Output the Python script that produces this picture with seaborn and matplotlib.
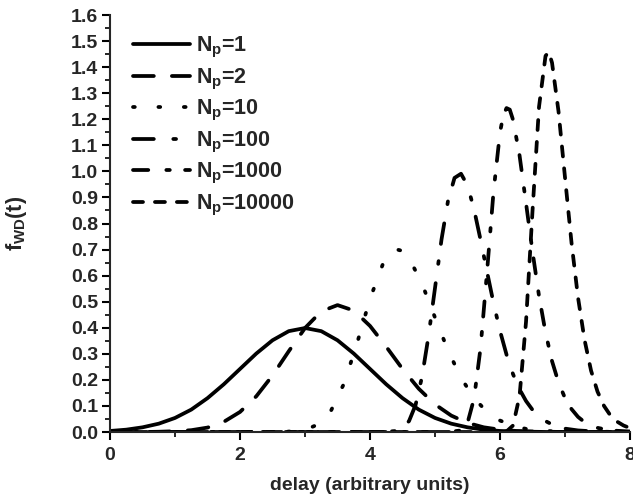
import matplotlib
matplotlib.use("Agg")
import matplotlib.pyplot as plt
import seaborn as sns
from matplotlib.ticker import MultipleLocator, FormatStrFormatter

# values
x_wide = [0.0, 0.25, 0.5, 0.75, 1.0, 1.25, 1.5, 1.75, 2.0, 2.25, 2.5, 2.75,
          3.0, 3.25, 3.5, 3.75, 4.0, 4.25, 4.5, 4.75, 5.0, 5.25, 5.5, 5.75,
          6.0, 6.25, 6.5, 6.75, 7.0, 7.25, 7.5, 7.75, 8.0]

f_np1 = [0.004, 0.009, 0.018, 0.032, 0.054, 0.086, 0.130, 0.183, 0.242, 0.301,
         0.352, 0.387, 0.399, 0.387, 0.352, 0.301, 0.242, 0.183, 0.130, 0.086,
         0.054, 0.032, 0.018, 0.009, 0.004, 0.002, 0.001, 0.0, 0.0, 0.0, 0.0,
         0.0, 0.0]

f_np2 = [0.0, 0.0, 0.0, 0.001, 0.003, 0.007, 0.017, 0.039, 0.077, 0.137,
         0.217, 0.310, 0.399, 0.463, 0.487, 0.466, 0.407, 0.327, 0.242, 0.166,
         0.106, 0.063, 0.035, 0.018, 0.009, 0.004, 0.002, 0.001, 0.0, 0.0, 0.0,
         0.0, 0.0]

x_np10 = [0.0, 1.0, 2.0, 2.4, 2.8, 3.0, 3.2, 3.4, 3.6, 3.8, 4.0, 4.2, 4.3,
          4.4, 4.5, 4.6, 4.8, 5.0, 5.2, 5.4, 5.6, 5.8, 6.0, 6.2, 6.4, 6.6,
          6.8, 7.0, 8.0]
f_np10 = [0.0, 0.0, 0.0, 0.0, 0.002, 0.008, 0.029, 0.082, 0.186, 0.340,
          0.511, 0.646, 0.686, 0.701, 0.695, 0.668, 0.569, 0.439, 0.313,
          0.208, 0.130, 0.077, 0.044, 0.024, 0.012, 0.006, 0.003, 0.001, 0.0]

x_np100 = [0.0, 2.0, 3.0, 4.2, 4.4, 4.5, 4.6, 4.7, 4.8, 4.9, 5.0, 5.1, 5.2,
           5.3, 5.4, 5.5, 5.6, 5.7, 5.8, 5.9, 6.0, 6.1, 6.2, 6.3, 6.4, 6.5,
           6.6, 6.7, 6.8, 6.9, 7.0, 7.2, 7.4, 7.6, 8.0]
f_np100 = [0.0, 0.0, 0.0, 0.0, 0.004, 0.014, 0.042, 0.103, 0.212, 0.368,
           0.553, 0.739, 0.887, 0.975, 0.991, 0.946, 0.855, 0.738, 0.615,
           0.495, 0.388, 0.297, 0.222, 0.164, 0.119, 0.085, 0.060, 0.042,
           0.029, 0.020, 0.013, 0.006, 0.003, 0.001, 0.0]

x_np1000 = [0.0, 3.0, 4.0, 5.2, 5.4, 5.5, 5.6, 5.7, 5.8, 5.9, 6.0, 6.05, 6.1,
            6.15, 6.2, 6.3, 6.4, 6.5, 6.6, 6.7, 6.8, 6.9, 7.0, 7.1, 7.2, 7.3,
            7.4, 7.5, 7.7, 8.0]
f_np1000 = [0.0, 0.0, 0.0, 0.0, 0.006, 0.035, 0.128, 0.322, 0.614, 0.922,
            1.150, 1.215, 1.243, 1.237, 1.198, 1.062, 0.878, 0.692, 0.522,
            0.382, 0.272, 0.190, 0.130, 0.088, 0.058, 0.038, 0.025, 0.016,
            0.006, 0.002]

x_np10000 = [0.0, 4.0, 5.0, 5.9, 6.0, 6.1, 6.2, 6.3, 6.4, 6.5, 6.6, 6.7, 6.75,
             6.8, 6.9, 7.0, 7.1, 7.2, 7.3, 7.4, 7.5, 7.6, 7.7, 7.8, 7.9, 8.0]
f_np10000 = [0.0, 0.0, 0.0, 0.0, 0.0, 0.002, 0.025, 0.137, 0.423, 0.849,
             1.248, 1.443, 1.459, 1.417, 1.230, 0.976, 0.726, 0.516, 0.354,
             0.236, 0.155, 0.100, 0.063, 0.040, 0.025, 0.015]

np_labels = ["1", "2", "10", "100", "1000", "10000"]

sns.set_style("ticks")
plt.rcParams["font.family"] = ["Liberation Sans", "DejaVu Sans"]
plt.rcParams["font.weight"] = "bold"
plt.rcParams["mathtext.fontset"] = "custom"
plt.rcParams["mathtext.rm"] = "Liberation Sans:bold"
plt.rcParams["mathtext.it"] = "Liberation Sans:bold"
plt.rcParams["mathtext.bf"] = "Liberation Sans:bold"
plt.rcParams["lines.scale_dashes"] = False

fig = plt.figure(figsize=(6.33, 5.01), dpi=100)
ax = fig.add_axes([0.1738, 0.1377, 0.8215, 0.8323])

series = [(x_wide, f_np1), (x_wide, f_np2), (x_np10, f_np10),
          (x_np100, f_np100), (x_np1000, f_np1000), (x_np10000, f_np10000)]
# dash patterns in points
styles = ["-", (0, (15, 13)), (0, (1.3, 17)),
          (0, (15, 14, 2.0, 12.5)), (0, (11, 13, 2.5, 11)),
          (0, (7.2, 8.6))]

for (xs, ys), ls, n in zip(series, styles, np_labels):
    sns.lineplot(x=xs, y=ys, ax=ax, color="black", lw=2.7, linestyle=ls,
                 dash_capstyle="round", solid_joinstyle="round",
                 estimator=None, sort=False, label=r"$N_p$=" + n)

ax.set_xlim(0, 8)
ax.set_ylim(0, 1.6)
ax.xaxis.set_major_locator(MultipleLocator(2))
ax.xaxis.set_minor_locator(MultipleLocator(1))
ax.yaxis.set_major_locator(MultipleLocator(0.1))
ax.yaxis.set_minor_locator(MultipleLocator(0.05))
ax.yaxis.set_major_formatter(FormatStrFormatter("%.1f"))
sns.despine(ax=ax)
for s in ["left", "bottom"]:
    ax.spines[s].set_linewidth(1.5)
ax.tick_params(which="major", direction="out", length=5.5, width=1.5,
               labelsize=14, color="black")
ax.tick_params(which="minor", direction="out", length=3.5, width=1.2,
               color="black")
ax.tick_params(axis="x", pad=5)
ax.tick_params(axis="y", pad=3)

ax.set_xlabel("delay (arbitrary units)", fontsize=14, fontweight="bold",
              labelpad=10)
ax.set_ylabel(r"$f_{WD}$(t)", fontsize=15.5, fontweight="bold")
ax.yaxis.set_label_coords(-0.155, 0.50)

ax.legend(loc="upper left", bbox_to_anchor=(0.044, 0.952), frameon=False,
          fontsize=15.5, handlelength=2.65, handletextpad=0.28,
          labelspacing=0.3, borderpad=0, borderaxespad=0)

plt.savefig("out.png", dpi=100)
